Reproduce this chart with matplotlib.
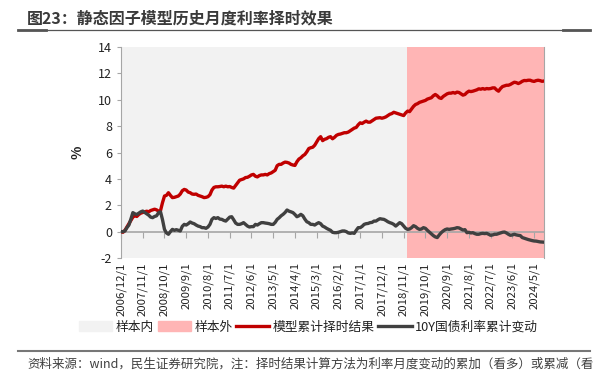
import matplotlib
matplotlib.use("Agg")
import matplotlib.pyplot as plt
from matplotlib.lines import Line2D
from matplotlib.patches import Patch

plt.rcParams['font.family'] = ['Noto Sans CJK SC', 'DejaVu Sans']
plt.rcParams['axes.unicode_minus'] = False

# monthly data, 2006/12 .. 2024/10
start_year, start_month = 2006, 12
model_cum = [
    0.0,
    -0.05, 0.1, 0.35, 0.6, 0.85, 1.1, 1.2, 1.15, 1.3, 1.4, 1.45, 1.5,
    1.55, 1.5, 1.6, 1.65, 1.7, 1.65, 1.55, 1.6, 2.2, 2.7, 2.75, 2.95,
    2.75, 2.58, 2.6, 2.65, 2.7, 2.85, 3.1, 3.2, 3.15, 3.0, 2.95, 2.85,
    2.83, 2.85, 2.75, 2.7, 2.65, 2.58, 2.6, 2.65, 2.8, 3.15, 3.35, 3.4,
    3.4, 3.42, 3.45, 3.4, 3.45, 3.4, 3.42, 3.35, 3.3, 3.5, 3.7, 3.9,
    3.95, 4.0, 4.1, 4.12, 4.2, 4.3, 4.34, 4.2, 4.15, 4.25, 4.3, 4.3,
    4.34, 4.3, 4.4, 4.45, 4.55, 4.65, 5.0, 5.1, 5.1, 5.2, 5.27, 5.25,
    5.2, 5.1, 5.05, 5.02, 5.3, 5.5, 5.6, 5.75, 5.85, 6.05, 6.3, 6.36,
    6.4, 6.55, 6.8, 7.05, 7.2, 6.9, 7.0, 7.05, 7.15, 7.2, 7.04, 7.15,
    7.3, 7.37, 7.4, 7.45, 7.5, 7.5, 7.55, 7.65, 7.75, 7.85, 7.9, 8.1,
    8.25, 8.2, 8.3, 8.38, 8.3, 8.3, 8.4, 8.5, 8.6, 8.62, 8.64, 8.6,
    8.64, 8.7, 8.8, 8.9, 8.95, 9.05, 9.0, 8.95, 8.9, 8.85, 8.8, 9.0,
    9.14, 9.1, 9.3, 9.5, 9.64, 9.7, 9.8, 9.85, 9.9, 9.95, 10.05, 10.1,
    10.15, 10.3, 10.4, 10.3, 10.15, 10.1, 10.25, 10.35, 10.45, 10.5, 10.5, 10.55,
    10.5, 10.58, 10.55, 10.45, 10.35, 10.4, 10.55, 10.65, 10.62, 10.65, 10.7, 10.75,
    10.83, 10.8, 10.85, 10.8, 10.85, 10.83, 10.85, 10.9, 10.9, 10.75, 10.65, 10.85,
    11.0, 11.05, 11.1, 11.1, 11.16, 11.25, 11.33, 11.3, 11.23, 11.3, 11.4, 11.46,
    11.45, 11.48, 11.48, 11.42, 11.39, 11.45, 11.48, 11.45, 11.4, 11.42,
]
bond10y_cum = [
    0.0,
    0.0, 0.05, 0.3, 0.5, 0.95, 1.44, 1.35, 1.3, 1.4, 1.5, 1.56, 1.45,
    1.35, 1.25, 1.1, 1.06, 1.15, 1.2, 1.44, 1.5, 0.9, 0.17, -0.1, -0.2,
    0.0, 0.17, 0.1, 0.15, 0.1, 0.05, 0.4, 0.55, 0.5, 0.6, 0.73, 0.65,
    0.6, 0.5, 0.42, 0.38, 0.3, 0.3, 0.25, 0.35, 0.55, 0.93, 1.06, 1.0,
    1.06, 0.95, 0.93, 0.85, 0.8, 0.95, 1.1, 1.13, 0.9, 0.65, 0.55, 0.55,
    0.6, 0.68, 0.55, 0.42, 0.35, 0.38, 0.38, 0.55, 0.5, 0.6, 0.68, 0.68,
    0.65, 0.63, 0.6, 0.55, 0.55, 0.7, 0.93, 1.05, 1.2, 1.31, 1.45, 1.64,
    1.55, 1.5, 1.44, 1.3, 1.13, 1.2, 1.31, 1.2, 0.95, 0.75, 0.68, 0.55,
    0.55, 0.5, 0.6, 0.68, 0.6, 0.42, 0.35, 0.25, 0.17, 0.1, -0.05, -0.08,
    -0.08, -0.05, 0.0, 0.05, 0.05, 0.0, -0.1, -0.13, -0.1, -0.13, 0.1, 0.3,
    0.3, 0.4, 0.55, 0.6, 0.62, 0.68, 0.7, 0.8, 0.8, 0.9, 0.98, 0.95,
    0.93, 0.85, 0.75, 0.68, 0.63, 0.55, 0.42, 0.55, 0.68, 0.6, 0.42, 0.25,
    0.17, 0.2, 0.3, 0.45, 0.38, 0.25, 0.17, 0.2, 0.3, 0.25, 0.1, -0.03,
    -0.15, -0.3, -0.4, -0.45, -0.25, -0.08, 0.05, 0.15, 0.2, 0.17, 0.2, 0.22,
    0.25, 0.3, 0.28, 0.2, 0.12, 0.15, -0.08, -0.05, -0.1, -0.08, -0.15, -0.2,
    -0.2, -0.15, -0.13, -0.15, -0.13, -0.2, -0.28, -0.25, -0.2, -0.2, -0.15, -0.1,
    -0.05, -0.03, -0.1, -0.2, -0.28, -0.25, -0.2, -0.25, -0.28, -0.3, -0.45, -0.5,
    -0.55, -0.6, -0.64, -0.68, -0.71, -0.72, -0.75, -0.78, -0.79, -0.8,
]
out_sample_start = "2019/1"

n = len(model_cum)
dates = []
y, m = start_year, start_month
for _ in range(n):
    dates.append(f"{y}/{m}")
    m += 1
    if m > 12:
        y, m = y + 1, 1
x = list(range(n))
split = dates.index(out_sample_start) - 0.5

fig = plt.figure(figsize=(6.05, 3.74), dpi=100)
ax = fig.add_axes([121 / 605, 1 - 258 / 374, (544 - 121) / 605, (258 - 47) / 374])

# spine position first, it resets the ticks
ax.spines["top"].set_visible(False)
ax.spines["bottom"].set_position(("data", 0))
ax.spines["bottom"].set_color("#a6a6a6")
ax.spines["bottom"].set_linewidth(1.2)
ax.spines["bottom"].set_zorder(2)
ax.spines["left"].set_color("#a6a6a6")
ax.spines["right"].set_color("#a6a6a6")

ax.axvspan(0, split, color="#f2f2f2", lw=0, zorder=0)
ax.axvspan(split, n - 1, color="#ffb5b5", lw=0, zorder=0)
ax.plot(x, model_cum, color="#c00000", lw=2.4, zorder=3)
ax.plot(x, bond10y_cum, color="#404040", lw=2.4, zorder=4)

ax.set_xlim(0, n - 1)
ax.set_ylim(-2, 14)
ax.set_yticks(range(-2, 15, 2))
tick_idx = list(range(0, n, 11))
ax.set_xticks(tick_idx)
ax.set_xticklabels([dates[i] + "/1" for i in tick_idx], rotation=90, fontsize=8.2)

ax.tick_params(axis="x", direction="out", length=4, color="#a6a6a6", pad=18, labelcolor="#222222")
ax.tick_params(axis="y", direction="out", length=3, color="#a6a6a6", labelsize=9, labelcolor="#222222")
ax.set_ylabel("%", fontsize=10, fontweight="bold", color="#222222", labelpad=10)

handles = [
    Patch(color="#f2f2f2"),
    Patch(color="#ffb5b5"),
    Line2D([], [], color="#c00000", lw=2.4),
    Line2D([], [], color="#404040", lw=2.4),
]
labels = ["样本内", "样本外", "模型累计择时结果", "10Y国债利率累计变动"]
fig.legend(handles, labels, loc="center", bbox_to_anchor=(0.51, 1 - 327 / 374), ncol=4,
           frameon=False, fontsize=9.2, handlelength=2.6, handleheight=0.8,
           handletextpad=0.25, columnspacing=0.3, labelcolor="#222222")

fig.text(27 / 605, 1 - 18 / 374, "图23：静态因子模型历史月度利率择时效果", fontsize=11.5,
         fontweight="bold", color="#3a3a3a", va="center")
fig.add_artist(Line2D([18 / 605, 590 / 605], [1 - 30 / 374] * 2, color="#555555", lw=0.9))
fig.add_artist(Line2D([18 / 605, 46 / 605], [1 - 30 / 374] * 2, color="#555555", lw=2))
fig.add_artist(Line2D([563 / 605, 590 / 605], [1 - 30 / 374] * 2, color="#555555", lw=2))
fig.add_artist(Line2D([18 / 605, 590 / 605], [1 - 351 / 374] * 2, color="#777777", lw=1.5))
fig.text(27 / 605, 1 - 364 / 374,
         "资料来源：wind，民生证券研究院，注：择时结果计算方法为利率月度变动的累加（看多）或累减（看",
         fontsize=9.0, color="#404040", va="center")

fig.savefig("out.png", dpi=100)
